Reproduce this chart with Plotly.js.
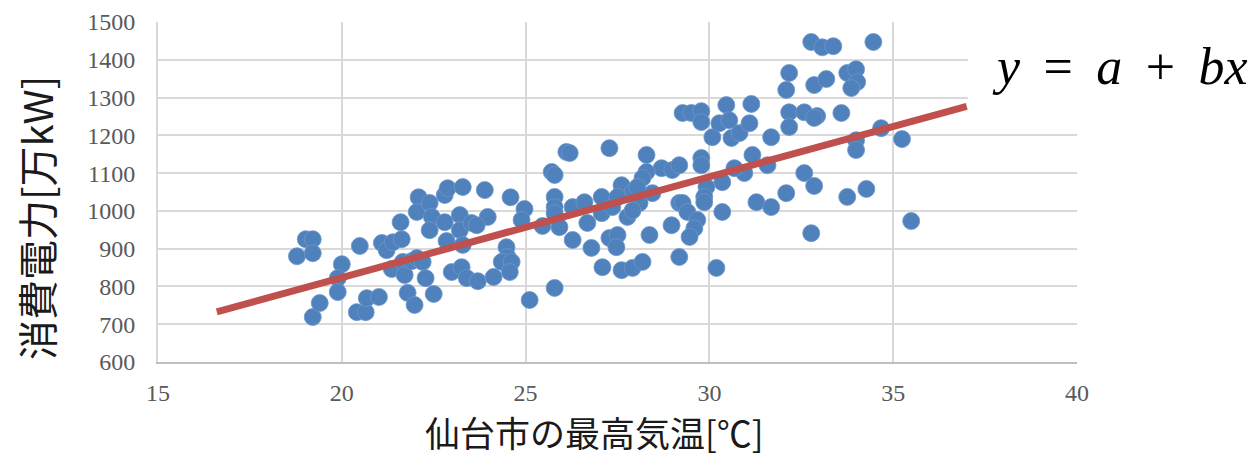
<!DOCTYPE html>
<html>
<head>
<meta charset="utf-8">
<script src="https://cdn.plot.ly/plotly-3.0.1.min.js"></script>
<style>
  html, body { margin: 0; padding: 0; background: #ffffff; }
  #chart { width: 1249px; height: 456px; }
</style>
</head>
<body>
<div id="chart"></div>
<script>
// Daily maximum temperature in Sendai [°C]
const maxTemp = [
  18.78, 19.02, 19.21, 19.21, 19.21, 19.40, 20.00, 19.89, 19.89, 20.49,
  20.41, 20.65, 20.68, 21.01, 21.09, 21.22, 21.39, 21.63, 21.60, 21.36,
  21.66, 21.71, 21.79, 21.98, 21.90, 22.04, 22.20, 22.28, 22.50, 22.09,
  22.04, 22.39, 22.45, 22.39, 22.80, 22.88, 23.29, 23.89, 23.97, 22.80,
  22.85, 23.21, 23.21, 23.29, 23.53, 23.67, 22.99, 23.26, 23.40, 23.70,
  24.13, 24.48, 24.51, 24.35, 24.62, 24.57, 24.59, 24.97, 24.89, 25.11,
  25.79, 25.46, 25.71, 25.79, 26.11, 26.20, 27.28, 28.29, 28.70, 28.99,
  29.18, 25.79, 25.79, 25.79, 25.92, 26.28, 26.28, 26.60, 26.68, 27.07,
  27.07, 27.36, 27.61, 27.91, 28.10, 28.29, 28.45, 27.77, 27.91, 26.79,
  27.09, 27.28, 27.50, 27.47, 27.61, 27.91, 28.18, 28.37, 28.97, 29.18,
  29.18, 29.27, 29.51, 29.78, 29.78, 30.08, 30.27, 30.46, 30.54, 30.60,
  30.82, 31.14, 31.09, 31.68, 31.17, 31.58, 30.95, 30.68, 30.35, 31.28,
  31.68, 29.78, 29.78, 29.92, 29.86, 29.86, 30.35, 30.19, 29.27, 29.40,
  29.67, 29.59, 29.46, 28.18, 28.04, 27.50, 32.17, 32.09, 32.85, 33.18,
  32.17, 32.17, 32.58, 32.93, 33.59, 32.85, 32.58, 32.85, 32.09, 32.77,
  32.77, 33.07, 33.37, 34.46, 33.75, 33.99, 34.02, 33.86, 34.67, 33.99,
  33.99, 35.24, 33.75, 34.27, 35.49
];

// Electricity demand [10,000 kW]
const power = [
   880,  925,  925,  888,  719,  756,  859,  822,  785,  907,
   732,  732,  769,  772,  915,  896,  917,  925,  970,  846,
   865,  830,  783,  751,  867,  875,  865,  822,  780, 1036,
   997, 1021,  984,  949, 1042, 1060, 1063, 1055,  984,  970,
   920,  989,  949,  910,  968,  962,  838,  851,  822,  814,
   825,  904,  878,  865,  865,  838, 1036, 1005,  976,  764,
   796,  960, 1103, 1095, 1156, 1153, 1166, 1148, 1113, 1108,
  1121, 1037, 1010,  994,  957, 1010,  923, 1023,  968, 1037,
   994, 1010, 1068, 1050, 1021, 1103, 1047,  984, 1001,  902,
   851,  928,  936,  904,  843,  849,  865,  936,  962,  878,
  1021, 1259, 1259, 1264, 1235, 1195, 1232, 1280, 1240, 1193,
  1206, 1283, 1232, 1195, 1148, 1121, 1100, 1113, 1076, 1023,
  1010, 1140, 1121, 1063, 1037, 1023,  997,  849, 1021,  997,
   976,  954,  931, 1087, 1063, 1037, 1365, 1320, 1333, 1349,
  1261, 1222, 1261, 1251, 1259, 1246, 1100, 1066, 1047,  941,
  1447, 1433, 1436, 1447, 1365, 1375, 1341, 1325, 1219, 1187,
  1161, 1190, 1037, 1058,  973
];

// Regression line y = a + bx and the temperature span it covers
const trendA = 290;
const trendB = 26.67;
const trendSpan = [16.6, 37.0];

const xTicks = [15, 20, 25, 30, 35, 40];
const yTicks = [600, 700, 800, 900, 1000, 1100, 1200, 1300, 1400, 1500];

const xTitle = '仙台市の最高気温[℃]';
const yTitle = '消費電力[万kW]';

const trendX = trendSpan.slice();
const trendY = trendX.map(t => trendA + trendB * t);

const points = {
  type: 'scatter',
  mode: 'markers',
  x: maxTemp,
  y: power,
  marker: {
    size: 17,
    color: '#4F81BD',
    line: { width: 0.8, color: '#6f97c9' }
  },
  hoverinfo: 'x+y',
  showlegend: false
};

const trend = {
  type: 'scatter',
  mode: 'lines',
  x: trendX,
  y: trendY,
  line: { color: '#C0504D', width: 7 },
  hoverinfo: 'skip',
  showlegend: false
};

const tickFont = { family: '"Liberation Serif", "Times New Roman", serif', size: 24, color: '#595959' };
const titleFont = { family: '"Noto Sans CJK JP", "Noto Sans", sans-serif', size: 40, color: '#1a1a1a' };
const xTitleFont = { family: '"Noto Sans CJK JP", "Noto Sans", sans-serif', size: 35, color: '#1a1a1a' };
const mathFont = { family: '"Liberation Serif", "Times New Roman", serif', size: 52, color: '#000000' };

// plot area in pixels: x 158..1077, y 22..362
const plotL = 158, plotR = 1077, plotT = 22, plotB = 362;
const px = v => (v - plotL) / (plotR - plotL);
const py = v => (plotB - v) / (plotB - plotT);

const layout = {
  width: 1249,
  height: 456,
  margin: { l: plotL, r: 1249 - plotR, t: plotT, b: 456 - plotB },
  paper_bgcolor: '#ffffff',
  plot_bgcolor: '#ffffff',
  xaxis: {
    range: [15, 40],
    tickvals: xTicks,
    ticktext: xTicks.map(String),
    showgrid: true,
    gridcolor: '#d9d9d9',
    gridwidth: 2,
    zeroline: false,
    showline: true,
    linecolor: '#bfbfbf',
    linewidth: 2,
    ticks: '',
    ticklabelstandoff: 8,
    tickfont: tickFont,
    fixedrange: true
  },
  yaxis: {
    range: [600, 1500],
    tickvals: yTicks,
    ticktext: yTicks.map(String),
    showgrid: true,
    gridcolor: '#d9d9d9',
    gridwidth: 2,
    zeroline: false,
    showline: true,
    linecolor: '#d9d9d9',
    linewidth: 2,
    ticks: '',
    ticklabelstandoff: 16,
    tickfont: tickFont,
    fixedrange: true
  },
  shapes: [
    {
      // white panel behind the equation
      type: 'rect',
      xref: 'paper', yref: 'paper',
      x0: px(968), x1: 1.2, y0: py(106), y1: 1.1,
      fillcolor: '#ffffff',
      line: { width: 0 },
      layer: 'above'
    }
  ],
  annotations: [
    {
      // x axis title
      xref: 'paper', yref: 'paper',
      x: px(594), y: py(431),
      xanchor: 'center', yanchor: 'middle',
      text: xTitle,
      showarrow: false,
      font: xTitleFont
    },
    {
      // y axis title
      xref: 'paper', yref: 'paper',
      x: px(36), y: py(218),
      xanchor: 'center', yanchor: 'middle',
      textangle: -90,
      text: yTitle,
      showarrow: false,
      font: titleFont
    },
    {
      // regression equation
      xref: 'paper', yref: 'paper',
      x: px(1120), y: py(66),
      xanchor: 'center', yanchor: 'middle',
      text: '<i>y</i> \u2009= \u2009<i>a</i> \u2009+ \u2009<i>bx</i>',
      showarrow: false,
      font: mathFont
    }
  ]
};

Plotly.newPlot('chart', [points, trend], layout, { displayModeBar: false, staticPlot: true });
</script>
</body>
</html>
